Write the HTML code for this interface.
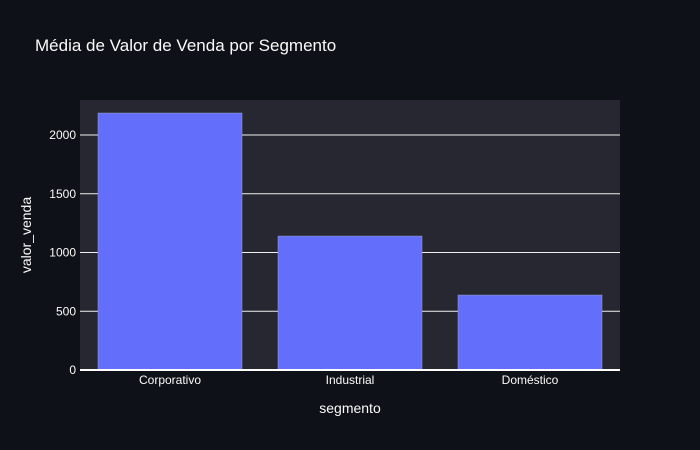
<!DOCTYPE html>
<html><head><meta charset="utf-8"><style>
html,body{margin:0;padding:0;background:#0e1117;}
svg{display:block;font-family:"Liberation Sans",Arial,sans-serif;}
</style></head><body>
<svg id="chart" width="700" height="450">
<rect width="700" height="450" fill="#0e1117"/>
<rect x="80" y="100" width="540" height="270" fill="#262730"/>
<text x="35" y="51" fill="#fafafa" font-size="17">Média de Valor de Venda por Segmento</text>
<g id="grid"></g><g id="bars"></g><g id="ticks"></g>
<text x="350" y="413" fill="#fafafa" font-size="14" text-anchor="middle">segmento</text>
<text transform="translate(31,235) rotate(-90)" fill="#fafafa" font-size="14" text-anchor="middle">valor_venda</text>
</svg>
<script>
const categories=["Corporativo","Industrial","Doméstico"];
const values=[2187,1140,638];
const yTicks=[0,500,1000,1500,2000];
const NS="http://www.w3.org/2000/svg";
const x0=80,w=540,yBase=370,yTop=100,yMax=2297.9;
function y(v){return yBase-(v/yMax)*(yBase-yTop);}
const band=w/categories.length;
function xc(i){return x0+band*i+band/2;}
function mk(t,a,p){const e=document.createElementNS(NS,t);for(const k in a)e.setAttribute(k,a[k]);p.appendChild(e);return e;}
const grid=document.getElementById('grid'),bars=document.getElementById('bars'),ticks=document.getElementById('ticks');
yTicks.forEach(v=>{
 if(v>0){const l=mk('line',{x1:x0,x2:x0+w,y1:y(v),y2:y(v),stroke:'#f0f0f0','stroke-width':1},grid);
 
 }
 const t=mk('text',{x:x0-4,y:y(v)+4,fill:'#fafafa','font-size':12,'text-anchor':'end'},ticks);
 t.textContent=v;
 
 
});
categories.forEach((c,i)=>{
 const bw=band*0.8;
 const r=mk('rect',{x:xc(i)-bw/2,y:y(values[i]),width:bw,height:yBase-y(values[i]),fill:'#636efa',stroke:'#a0a4d0','stroke-width':0.5},bars);
 
 
 const t=mk('text',{x:xc(i),y:yBase+14,fill:'#fafafa','font-size':12,'text-anchor':'middle'},ticks);
 t.textContent=c;
 
 
});
const z=mk('line',{x1:x0,x2:x0+w,y1:yBase,y2:yBase,stroke:'#ffffff','stroke-width':2},ticks);


</script>
</body></html>
